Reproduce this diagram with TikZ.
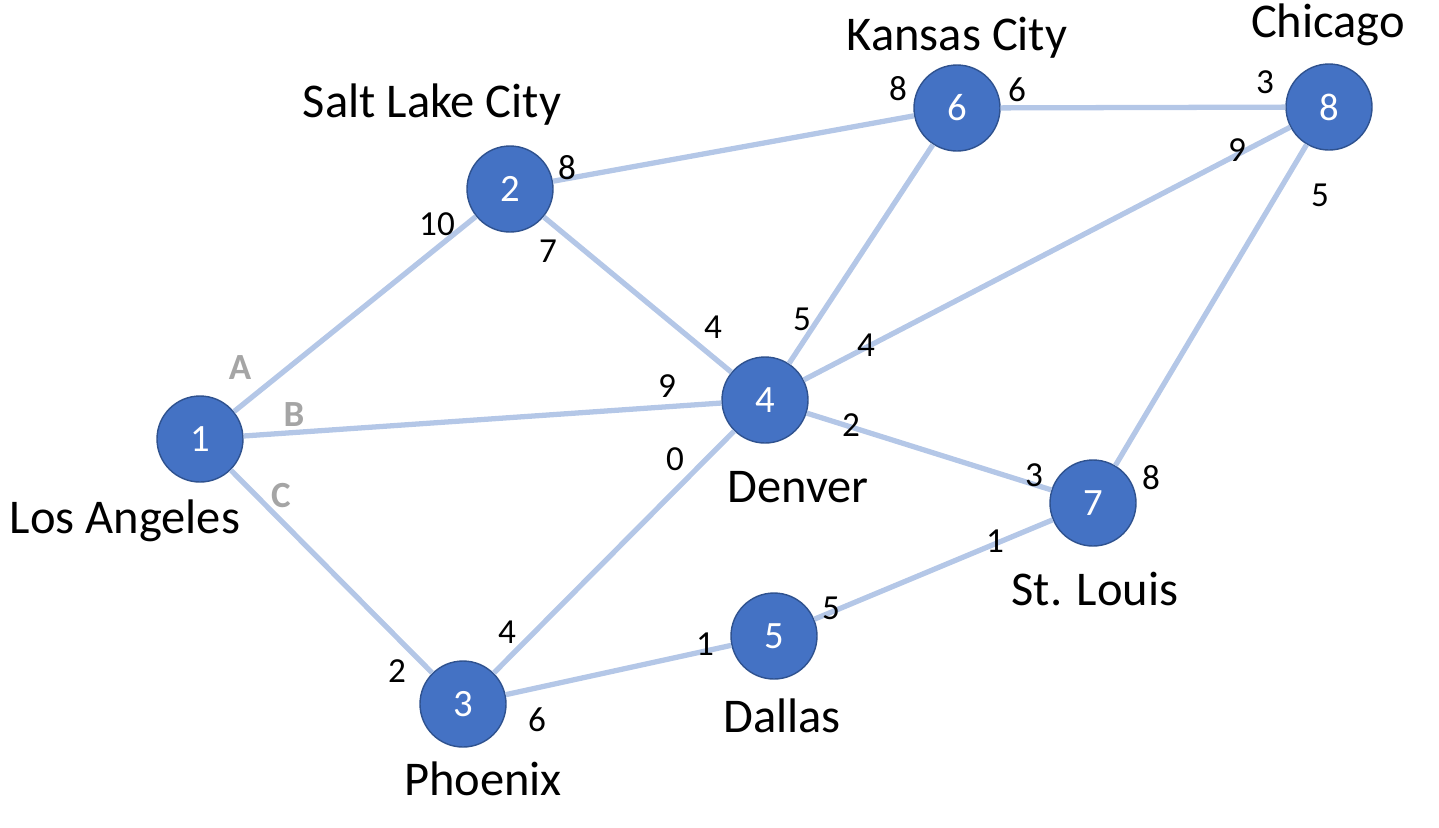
\documentclass[tikz,border=0pt]{standalone}
\usepackage{fontspec}
\setmainfont{Carlito}
\usetikzlibrary{positioning}
\definecolor{cityblue}{HTML}{4472C4}
\definecolor{cityrim}{HTML}{2F528F}
\definecolor{roadblue}{HTML}{B4C7E7}
\definecolor{tagGray}{HTML}{A5A5A5}

\begin{document}
\begin{tikzpicture}[
    x=0.1mm, y=-0.1mm,
    city/.style={circle, draw=cityrim, line width=0.4pt, fill=cityblue, minimum size=8.6mm, inner sep=0pt, text=white, font=\fontsize{11}{13}\selectfont},
    cityname/.style={anchor=base, inner sep=0pt, font=\fontsize{13.8}{16}\selectfont},
    cost/.style={inner sep=0pt, font=\fontsize{10}{12}\selectfont},
    tag/.style={inner sep=0pt, text=tagGray, font=\fontsize{10.5}{12}\selectfont\bfseries},
    road/.style={roadblue, line width=1.5pt}
]
    \useasboundingbox (0,0) rectangle (1439,827);

    % cities
    \node[city] (la)  at (200,439)  {1};
    \node[city] (slc) at (510,189)  {2};
    \node[city] (phx) at (463,704)  {3};
    \node[city] (den) at (765,400)  {4};
    \node[city] (dal) at (774,636)  {5};
    \node[city] (kc)  at (957,108)  {6};
    \node[city] (stl) at (1093,503) {7};
    \node[city] (chi) at (1329,107) {8};

    % city names
    \node[cityname] (laname)  at (125,533)  {Los Angeles};
    \node[cityname] (slcname) at (432,117)  {Salt Lake City};
    \node[cityname] (phxname) at (483,795)  {Phoenix};
    \node[cityname] (denname) at (798,502)  {Denver};
    \node[cityname] (dalname) at (782,732)  {Dallas};
    \node[cityname] (kcname)  at (957,50)   {Kansas City};
    \node[cityname] (stlname) at (1095,605) {St. Louis};
    \node[cityname] (chiname) at (1328,37)  {Chicago};

    % roads
    \draw[road] (la) -- (slc);
    \draw[road] (la) -- (den);
    \draw[road] (la) -- (phx);
    \draw[road] (slc) -- (kc);
    \draw[road] (slc) -- (den);
    \draw[road] (den) -- (kc);
    \draw[road] (den) -- (chi);
    \draw[road] (den) -- (stl);
    \draw[road] (den) -- (phx);
    \draw[road] (kc) -- (chi);
    \draw[road] (chi) -- (stl);
    \draw[road] (phx) -- (dal);
    \draw[road] (dal) -- (stl);

    % road tags
    \node[tag] (tagA) at (240,368) {A};
    \node[tag] (tagB) at (294,415) {B};
    \node[tag] (tagC) at (281,496) {C};

    % costs
    \node[cost] (c12a) at (437,224)  {10};
    \node[cost] (c14a) at (667,386)  {9};
    \node[cost] (c13a) at (397,671)  {2};
    \node[cost] (c26a) at (567,168)  {8};
    \node[cost] (c26b) at (898,89)   {8};
    \node[cost] (c24a) at (548,251)  {7};
    \node[cost] (c24b) at (713,327)  {4};
    \node[cost] (c46a) at (802,319)  {5};
    \node[cost] (c48a) at (866,345)  {4};
    \node[cost] (c48b) at (1237,150) {9};
    \node[cost] (c47a) at (851,425)  {2};
    \node[cost] (c47b) at (1034,475) {3};
    \node[cost] (c43a) at (675,459)  {0};
    \node[cost] (c43b) at (507,632)  {4};
    \node[cost] (c68a) at (1017,90)  {6};
    \node[cost] (c68b) at (1265,82)  {3};
    \node[cost] (c87a) at (1320,195) {5};
    \node[cost] (c87b) at (1151,478) {8};
    \node[cost] (c35a) at (537,720)  {6};
    \node[cost] (c35b) at (705,644)  {1};
    \node[cost] (c57a) at (831,608)  {5};
    \node[cost] (c57b) at (995,541)  {1};
\end{tikzpicture}
\end{document}
